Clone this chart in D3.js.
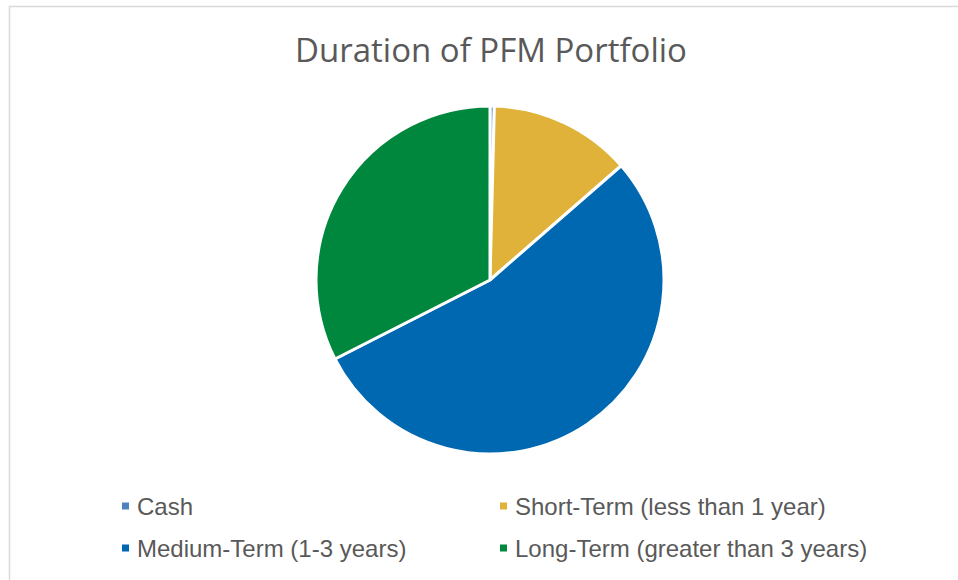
<!DOCTYPE html>
<html>
<head>
<meta charset="utf-8">
<script src="https://d3js.org/d3.v7.min.js"></script>
<style>
  body { margin: 0; background: #fff; }
  svg { display: block; }
</style>
</head>
<body>
<svg id="chart"></svg>
<script>
// chart data
var categories = ["Cash", "Short-Term (less than 1 year)", "Medium-Term (1-3 years)", "Long-Term (greater than 3 years)"];
var shares = [0.4, 13.2, 53.9, 32.5];
var colors = ["#4f81bd", "#e0b239", "#0067b1", "#00873e"];

var width = 958, height = 580;

var svg = d3.select("#chart")
    .attr("width", width)
    .attr("height", height);

// outer frame
svg.append("rect")
    .attr("x", 9.5).attr("y", 6.5)
    .attr("width", 960).attr("height", 600)
    .attr("fill", "none")
    .attr("stroke", "#d9d9d9")
    .attr("stroke-width", 1.5);

svg.append("text")
    .attr("x", 491).attr("y", 62)
    .attr("text-anchor", "middle")
    .style("font-family", "'Open Sans', Carlito, sans-serif")
    .style("font-size", "33px")
    .style("fill", "#595959")
    .text("Duration of PFM Portfolio");

var data = categories.map(function(c, i) { return { name: c, value: shares[i], color: colors[i] }; });

var pie = d3.pie().sort(null).value(function(d) { return d.value; });
var arc = d3.arc().innerRadius(0).outerRadius(174);

var g = svg.append("g").attr("transform", "translate(490,280)");

g.selectAll("path")
    .data(pie(data))
    .enter().append("path")
    .attr("d", arc)
    .attr("fill", function(d) { return d.data.color; })
    .attr("stroke", "#fff")
    .attr("stroke-width", 3)
    .attr("stroke-linejoin", "round");

// legend, two columns
var legX = [122, 500], legY = [506, 548];
var leg = svg.selectAll(".leg")
    .data(data)
    .enter().append("g")
    .attr("class", "leg")
    .attr("transform", function(d, i) { return "translate(" + legX[i % 2] + "," + legY[Math.floor(i / 2)] + ")"; });

leg.append("rect")
    .attr("x", 0).attr("y", -3.5)
    .attr("width", 7).attr("height", 7)
    .attr("fill", function(d) { return d.color; });

leg.append("text")
    .attr("x", 15).attr("y", 9)
    .style("font-family", "'Liberation Sans', Arial, sans-serif")
    .style("font-size", "24px")
    .style("fill", "#595959")
    .text(function(d) { return d.name; });
</script>
</body>
</html>
